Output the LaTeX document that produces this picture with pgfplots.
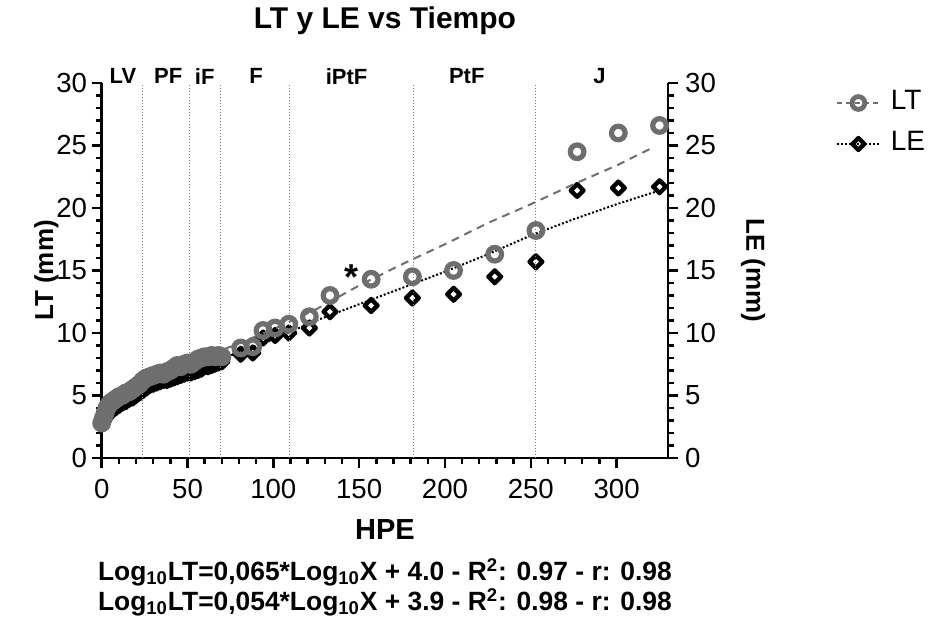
\documentclass[border=0pt]{standalone}
\usepackage{fontspec}
\setmainfont{Liberation Sans}
\usepackage{pgfplots}
\usepackage{pgfplotstable}
\pgfplotsset{compat=1.18}

\definecolor{ltgray}{RGB}{110,110,110}

% LT (mm) vs HPE
\pgfplotstableread{
x y
0 2.8
1 3.2
2 3.6
3 4.0
4 4.2
5 4.4
6 4.5
8 4.7
10 4.9
12 5.0
14 5.2
16 5.3
18 5.5
20 5.7
22 5.9
24 6.2
26 6.4
28 6.5
30 6.6
32 6.7
34 6.8
36 6.7
38 6.9
40 7.0
42 7.2
44 7.4
46 7.3
48 7.5
50 7.6
52 7.5
54 7.7
56 7.9
58 8.0
60 8.1
62 8.1
64 8.2
66 8.1
68 8.2
70 8.1
81 8.8
88 8.9
94 10.2
101 10.4
109 10.7
121 11.3
133 13.0
157 14.3
181 14.5
205 15.0
229 16.3
253 18.2
277 24.5
301 26.0
325 26.6
}\ltdata

% LE (mm) vs HPE
\pgfplotstableread{
x y
0 2.9
1 3.0
2 3.2
3 3.4
4 3.6
5 3.7
6 3.8
8 4.0
10 4.2
12 4.4
14 4.5
16 4.7
18 4.8
20 5.0
22 5.2
24 5.4
26 5.6
28 5.8
30 5.9
32 6.0
34 6.1
36 6.2
38 6.2
40 6.3
42 6.4
44 6.5
46 6.6
48 6.7
50 6.8
52 6.8
54 6.9
56 7.0
58 7.1
60 7.3
62 7.3
64 7.4
66 7.5
68 7.6
70 7.7
81 8.3
88 8.4
94 9.6
101 9.8
109 10.0
121 10.4
133 11.7
157 12.2
181 12.8
205 13.1
229 14.5
253 15.7
277 21.4
301 21.6
325 21.7
}\ledata

% fitted curves
\pgfplotstableread{
x y
1 3.5
10 5.0
25 6.3
50 7.6
75 8.9
100 10.3
125 11.9
150 13.8
175 15.5
200 17.1
225 18.8
250 20.3
275 21.9
300 23.4
322 24.9
}\ltfit

\pgfplotstableread{
x y
1 3.3
10 4.6
25 5.8
50 7.0
75 8.2
100 9.5
125 11.0
150 12.3
175 13.6
200 14.9
225 16.3
250 17.8
275 19.1
300 20.3
325 21.4
}\lefit

\pgfplotsset{
  base/.style={
    scale only axis, width=283.2pt, height=187.5pt,
    xmin=0, xmax=330, ymin=0, ymax=30, clip=false,
    tick align=outside, major tick length=5pt, minor tick length=3pt,
    tick style={black, line width=1.2pt},
    axis line style={line width=1.3pt},
    ytick={0,5,...,30}, minor y tick num=4,
    ticklabel style={font=\fontsize{13.8}{16}\selectfont},
    /pgf/number format/assume math mode=true,
    label style={font=\fontsize{13}{15}\selectfont\bfseries},
  },
}

\begin{document}
\begin{tikzpicture}
\path[use as bounding box] (-50.85pt,-80.5pt) rectangle (418.15pt,229pt);

% right axis: LE
\begin{axis}[base,
  axis y line*=right, axis x line=none,
  ylabel={LE (mm)},
  ylabel style={at={(axis description cs:1.1499,0.5)}, anchor=center, rotate=180},
]
\addplot[black, densely dotted, line width=1pt] table {\lefit};
\addplot[only marks, mark=square, mark size=2.25pt,
  mark options={rotate=45, black, line width=2.2pt, line join=round}] table {\ledata};
\end{axis}

% left axis: LT
\begin{axis}[base,
  axis y line*=left, axis x line*=bottom,
  xtick={0,50,...,300}, minor x tick num=4,
  xticklabel style={yshift=-2pt},
  yticklabel style={xshift=1.2pt},
  xlabel={HPE}, ylabel={LT (mm)},
  xlabel style={at={(axis description cs:0.5,-0.192)}, anchor=center,
    font=\fontsize{14.5}{16}\selectfont\bfseries},
  ylabel style={at={(axis description cs:-0.0975,0.5)}, anchor=center},
  title={LT y LE vs Tiempo},
  title style={at={(axis description cs:0.5,1.1333)}, anchor=center,
    font=\fontsize{15}{17}\selectfont\bfseries},
  legend style={at={(axis description cs:1.2956,0.892)}, anchor=west,
    draw=none, fill=none, inner sep=0pt, row sep=3.5pt, column sep=3pt,
    font=\fontsize{14}{16}\selectfont,
    nodes={inner sep=2pt, text height=10pt, text depth=3pt}},
  legend cell align=left,
  legend image code/.code={
    \draw[mark repeat=2, mark phase=2, #1]
      plot coordinates {(0pt,0pt) (10.75pt,0pt) (21.5pt,0pt)};},
]
\foreach \v in {24,51,69.5,109.5,181.5,252.5}{
  \edef\tmp{\noexpand\addplot[gray, densely dotted, line width=0.5pt, forget plot]
    coordinates {(\v,0) (\v,30)};}
  \tmp
}
\addplot[ltgray, dashed, dash pattern=on 4pt off 3pt, line width=1pt, forget plot] table {\ltfit};
\addplot[only marks, mark=o, mark size=3.4pt,
  mark options={ltgray, line width=2.6pt}, forget plot] table {\ltdata};

\addlegendimage{ltgray, dashed, dash pattern=on 2.5pt off 2pt, line width=1pt,
  mark=o, mark size=3.2pt, mark options={solid, line width=2.4pt}}
\addlegendentry{LT}
\addlegendimage{black, densely dotted, line width=1pt,
  mark=square, mark size=2.1pt, mark options={solid, rotate=45, line width=2.2pt, line join=round}}
\addlegendentry{LE}

\foreach \lab/\xp in {LV/12.4, PF/38.8, iF/60, F/90, iPtF/142.7, PtF/212.7, J/290}{
  \edef\tmp{\noexpand\node[font=\noexpand\fontsize{11}{12}\noexpand\selectfont\noexpand\bfseries,
    anchor=center, yshift=3.3pt] at (axis cs:\xp,30) {\lab};}
  \tmp
}
\node[font=\fontsize{18}{18}\selectfont\bfseries, anchor=center] at (axis cs:145.5,14.5) {*};

\node[font=\fontsize{13.2}{15}\selectfont\bfseries, anchor=center]
  at (axis description cs:0.5,-0.304)
  {Log\textsubscript{10}LT=0,065*Log\textsubscript{10}X + 4.0 - R\textsuperscript{2}: 0.97 - r: 0.98};
\node[font=\fontsize{13.2}{15}\selectfont\bfseries, anchor=center]
  at (axis description cs:0.5,-0.384)
  {Log\textsubscript{10}LT=0,054*Log\textsubscript{10}X + 3.9 - R\textsuperscript{2}: 0.98 - r: 0.98};
\end{axis}
\end{tikzpicture}
\end{document}
